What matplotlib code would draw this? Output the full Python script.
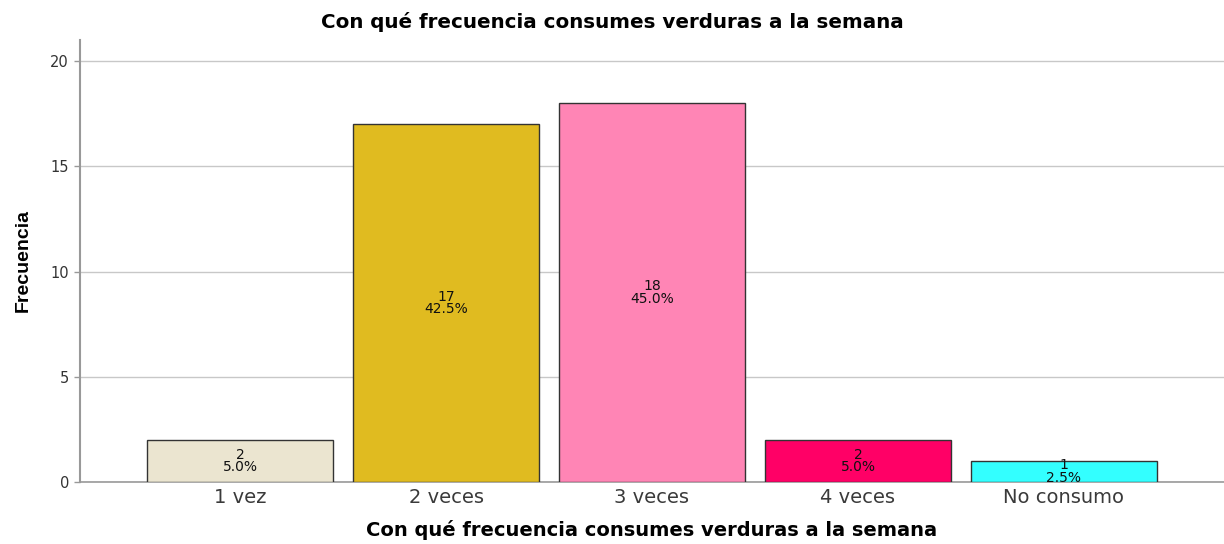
import matplotlib
matplotlib.use('Agg')
import matplotlib.pyplot as plt
import numpy as np

categories = ['1 vez', '2 veces', '3 veces', '4 veces', 'No consumo']
counts = [2, 17, 18, 2, 1]
percents = [5.0, 42.5, 45.0, 5.0, 2.5]
colors = ['#EBE5D0', '#E0BB20', '#FF85B5', '#FF0066', '#33FFFF']
title = 'Con qué frecuencia consumes verduras a la semana'


def main():
    plt.rcParams['font.family'] = ['DejaVu Sans']

    fig = plt.figure(figsize=(12.24, 5.44), dpi=100)
    ax = fig.add_axes([80 / 1224, 62 / 544, 1 - 80 / 1224, (482 - 40) / 544])

    x = np.arange(len(categories))
    ax.bar(x, counts, width=0.9, color=colors, edgecolor='#333333',
           linewidth=1.0, zorder=3)

    for xi, c, p in zip(x, counts, percents):
        ax.text(xi, c / 2, f'{c}\n{p:.1f}%', ha='center', va='center',
                fontsize=10, color='#111111', linespacing=0.85, zorder=4)

    ax.set_xlim(-0.777, len(categories) - 1 + 0.777)
    ax.set_ylim(0, 21)
    ax.set_yticks([0, 5, 10, 15, 20])
    ax.set_xticks(x)
    ax.set_xticklabels(categories, fontsize=14, color='#3a3a3a')
    ax.tick_params(axis='x', length=0, pad=4)
    ax.tick_params(axis='y', labelsize=10.5, labelcolor='#333333',
                   length=4, width=1, color='#999999', pad=4)
    ax.yaxis.grid(True, color='#C8C8C8', linewidth=1, zorder=0)

    for side in ['top', 'right']:
        ax.spines[side].set_visible(False)
    ax.spines['left'].set_color('#999999')
    ax.spines['left'].set_linewidth(1.5)
    ax.spines['bottom'].set_color('#999999')
    ax.spines['bottom'].set_linewidth(1.2)

    ax.set_xlabel(title, fontsize=14, fontweight='bold', labelpad=10)
    ax.set_ylabel('Frecuencia', fontsize=14, fontweight='bold',
                  family=['Liberation Sans Narrow', 'Liberation Sans', 'DejaVu Sans'],
                  labelpad=13)
    fig.text(0.5, 1 - 22 / 544, title, ha='center', va='center',
             fontsize=14.3, fontweight='bold')

    fig.savefig('out.png', dpi=100)


if __name__ == '__main__':
    main()
